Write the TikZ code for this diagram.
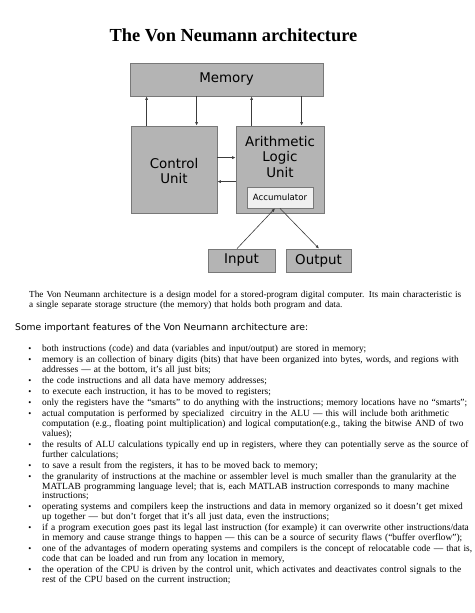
\documentclass[tikz,border=0pt]{standalone}
\usepackage{fontspec}
\setmainfont{Liberation Serif}
\newfontfamily\dejavu{DejaVu Sans}
\usetikzlibrary{arrows.meta}

\definecolor{boxfill}{RGB}{180,180,180}
\definecolor{boxedge}{RGB}{120,120,120}
\definecolor{accfill}{RGB}{240,240,240}
\definecolor{linkgray}{RGB}{60,60,60}

% sizes fitted to the widths of lines in the scan
\newlength{\lineA}
\newlength{\lineB}
\newlength{\lineC}
\newlength{\lineD}

\tikzset{
  unit/.style={draw=boxedge, fill=boxfill, line width=0.8pt, inner sep=0pt},
  bigtext/.style={font=\dejavu\fontsize{13.4}{15.5}\selectfont, align=center},
  link/.style={draw=linkgray, line width=0.6pt, -{Latex[length=3.5pt,width=3pt]}},
  body/.style={anchor=base west, text width=445pt, align=left, inner sep=0pt, font=\fontsize{\bodysize}{9.9}\selectfont},
  dot/.style={anchor=base, inner sep=0pt, font=\fontsize{8.6}{9.9}\selectfont}
}

\begin{document}
\settowidth{\lineA}{\fontsize{10}{12}\selectfont memory is an collection of binary digits (bits) that have been organized into bytes, words, and regions with}%
\settowidth{\lineB}{\fontsize{10}{12}\selectfont if a program execution goes past its legal last instruction (for example) it can overwrite other instructions/data}%
\settowidth{\lineC}{\fontsize{10}{12}\selectfont The Von Neumann architecture is a design model for a stored-program digital computer. Its main characteristic is}%
\settowidth{\lineD}{\dejavu\fontsize{10}{12}\selectfont Some important features of the Von Neumann architecture are:}%
\pgfmathsetmacro\bodysize{5*409/\lineA + 5*408/\lineB}%
\pgfmathsetmacro\introsize{10*419/\lineC}%
\pgfmathsetmacro\featsize{10*293/\lineD}%
\begin{tikzpicture}[x=1pt,y=-1pt]
            \useasboundingbox (0,0) rectangle (474,613);
            \node (title) at (233.5,35) {\fontsize{18.4}{20}\selectfont\bfseries The Von Neumann architecture};
            % the machine
            \node[unit, minimum width=193pt, minimum height=33pt] (mem) at (226.5,79.5) {};
            \node[bigtext] (memtext) at (mem) {Memory};
            \node[unit, minimum width=86pt, minimum height=87pt] (cu) at (174,169.5) {};
            \node[bigtext] (cutext) at (174,171) {Control\\Unit};
            \node[unit, minimum width=88pt, minimum height=87pt] (alu) at (280,169.5) {};
            \node[bigtext] (alutext) at (280,156.7) {Arithmetic\\Logic\\Unit};
            \node[unit, fill=accfill, minimum width=66pt, minimum height=21pt] (acc) at (280,197.5) {};
            \node[font=\dejavu\fontsize{8.6}{10}\selectfont] (acctext) at (acc) {Accumulator};
            \node[unit, minimum width=67pt, minimum height=23pt] (in) at (241.5,260.5) {};
            \node[bigtext] (intext) at (in) {Input};
            \node[unit, minimum width=65pt, minimum height=23pt] (out) at (318.5,260.5) {};
            \node[bigtext] (outtext) at (out) {Output};
            \draw[link] ([xshift=16pt]cu.north west) -- ([xshift=16pt]cu.north west |- mem.south);
            \draw[link] ([xshift=66pt]cu.north west |- mem.south) -- ([xshift=66pt]cu.north west);
            \draw[link] ([xshift=16pt]alu.north west) -- ([xshift=16pt]alu.north west |- mem.south);
            \draw[link] ([xshift=66pt]alu.north west |- mem.south) -- ([xshift=66pt]alu.north west);
            \draw[link] ([yshift=-32pt]cu.north east) -- ([yshift=-32pt]cu.north east -| alu.west);
            \draw[link] ([yshift=-56pt]cu.north east -| alu.west) -- ([yshift=-56pt]cu.north east);
            \draw[link] ([xshift=-4.5pt]in.north) -- ([xshift=-5pt]acc.south);
            \draw[link] (acc.south) -- ([xshift=0.5pt]out.north);
            % the text
            \node[body, font=\fontsize{\introsize}{10}\selectfont] (intro) at (29,297) {The Von Neumann architecture is a design model for a stored-program digital computer. Its main characteristic is\\a single separate storage structure (the memory) that holds both program and data.};
            \node[anchor=base west, inner sep=0pt, font=\dejavu\fontsize{\featsize}{11}\selectfont] (feat) at (15,330) {Some important features of the Von Neumann architecture are:};
            \foreach \y [count=\i] in {351.5,362.5,383.4,394.4,405.4,416.4,447.2,468.1,479.1,509.9,530.8,551.7,572.6}
              \node[dot] (dot\i) at (30,\y) {\textbullet};
            \node[body] (item1) at (42,351.5) {both instructions (code) and data (variables and input/output) are stored in memory;};
            \node[body] (item2) at (42,362.5) {memory is an collection of binary digits (bits) that have been organized into bytes, words, and regions with\\addresses --- at the bottom, it's all just bits;};
            \node[body] (item3) at (42,383.4) {the code instructions and all data have memory addresses;};
            \node[body] (item4) at (42,394.4) {to execute each instruction, it has to be moved to registers;};
            \node[body] (item5) at (42,405.4) {only the registers have the ``smarts'' to do anything with the instructions; memory locations have no ``smarts'';};
            \node[body] (item6) at (42,416.4) {actual computation is performed by specialized\ \ circuitry in the ALU --- this will include both arithmetic\\computation (e.g., floating point multiplication) and logical computation(e.g., taking the bitwise AND of two\\values);};
            \node[body] (item7) at (42,447.2) {the results of ALU calculations typically end up in registers, where they can potentially serve as the source of\\further calculations;};
            \node[body] (item8) at (42,468.1) {to save a result from the registers, it has to be moved back to memory;};
            \node[body] (item9) at (42,479.1) {the granularity of instructions at the machine or assembler level is much smaller than the granularity at the\\MATLAB programming language level; that is, each MATLAB instruction corresponds to many machine\\instructions;};
            \node[body] (item10) at (42,509.9) {operating systems and compilers keep the instructions and data in memory organized so it doesn't get mixed\\up together --- but don't forget that it's all just data, even the instructions;};
            \node[body] (item11) at (42,530.8) {if a program execution goes past its legal last instruction (for example) it can overwrite other instructions/data\\in memory and cause strange things to happen --- this can be a source of security flaws (``buffer overflow'');};
            \node[body] (item12) at (42,551.7) {one of the advantages of modern operating systems and compilers is the concept of relocatable code --- that is,\\code that can be loaded and run from any location in memory,};
            \node[body] (item13) at (42,572.6) {the operation of the CPU is driven by the control unit, which activates and deactivates control signals to the\\rest of the CPU based on the current instruction;};
        \end{tikzpicture}
\end{document}
